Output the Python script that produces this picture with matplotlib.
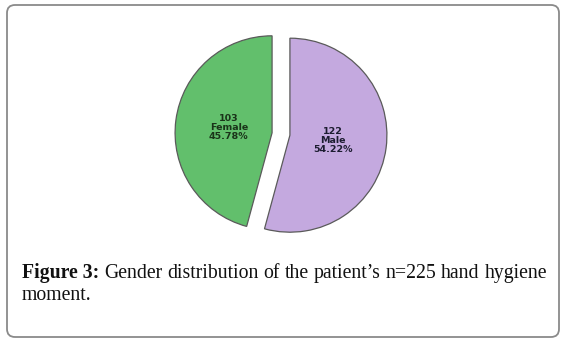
import matplotlib
matplotlib.use("Agg")
import matplotlib.pyplot as plt
from matplotlib.patches import FancyBboxPatch

# ---- data ----
categories = ["Male", "Female"]
counts = [122, 103]
percents = ["54.22%", "45.78%"]
colors = ["#c4a9df", "#62bf6c"]
caption_bold = "Figure 3:"
caption_rest = "Gender distribution of the patient\u2019s n=225 hand hygiene"
caption_line2 = "moment."

W, H = 570, 342
fig = plt.figure(figsize=(W / 100, H / 100), dpi=100)
ax = fig.add_axes([0, 0, 1, 1])
ax.set_xlim(0, W)
ax.set_ylim(0, H)
ax.set_aspect("equal")
ax.axis("off")

# outer rounded frame
frame = FancyBboxPatch((7, H - 337), 552, 332, boxstyle="round,pad=0,rounding_size=8",
                       fill=False, edgecolor="#8a8a8a", linewidth=1.3)
ax.add_patch(frame)

labels = [f"{n}\n{c}\n{p}" for n, c, p in zip(counts, categories, percents)]
wedges, texts = ax.pie(counts, labels=labels, colors=colors, startangle=90, counterclock=False,
                       center=(281, H - 134), radius=97, explode=[9, 9], labeldistance=0.45,
                       wedgeprops=dict(edgecolor="#5a5a5a", linewidth=0.9),
                       textprops=dict(ha="center", va="center", fontsize=6.8, fontweight="bold",
                                      color="#1c1c30", family="DejaVu Sans", linespacing=1.0,
                                      multialignment="center"),
                       frame=True)
texts[1].set_color("#1a3319")
ax.set_xlim(0, W)
ax.set_ylim(0, H)
ax.axis("off")

# caption, first line justified
fs = 14.2
fig.canvas.draw()
r = fig.canvas.get_renderer()
words = [(caption_bold, "bold")] + [(w, "normal") for w in caption_rest.split(" ")]
objs = []
total = 0
for w, wt in words:
    t = ax.text(0, H - 278, w, fontsize=fs, family="Liberation Serif", fontweight=wt,
                color="#111111", va="baseline", ha="left")
    wd = t.get_window_extent(r).width
    objs.append((t, wd))
    total += wd
x0, x1 = 22, 547
gap = (x1 - x0 - total) / (len(objs) - 1)
x = x0
for t, wd in objs:
    t.set_x(x)
    x += wd + gap
ax.text(x0, H - 300, caption_line2, fontsize=fs, family="Liberation Serif",
        color="#111111", va="baseline", ha="left")

fig.savefig("out.png", dpi=100)
